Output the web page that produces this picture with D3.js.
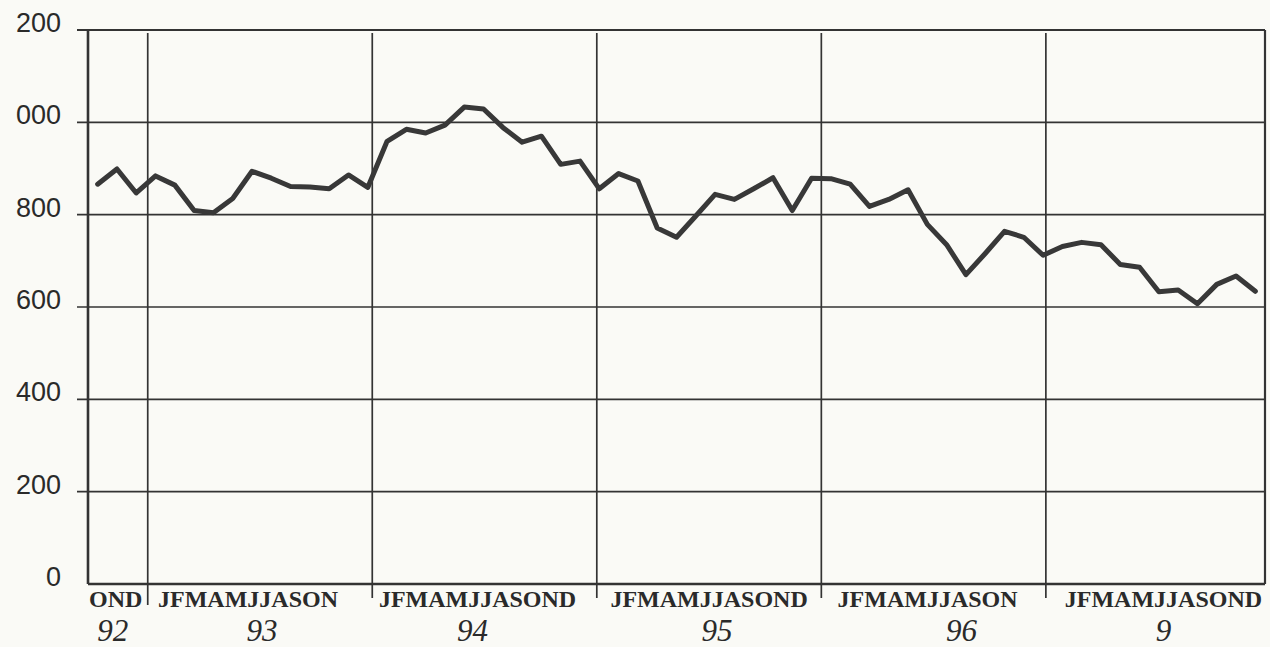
<!DOCTYPE html>
<html>
<head>
<meta charset="utf-8">
<script src="https://cdn.jsdelivr.net/npm/d3@7"></script>
<style>
  body { margin: 0; background: #fafaf6; }
</style>
</head>
<body>
<div id="chart-area"></div>
<script>
// monthly values
var values = [
  866, 899, 847, 884, 864, 809, 804, 835, 894, 879, 861, 860, 856, 886, 859,
  959, 985, 977, 994, 1033, 1029, 989, 957, 970, 909, 916, 856, 889, 873, 771,
  751, 797, 844, 833, 856, 880, 809, 879, 878, 866, 818, 833, 854, 779, 735,
  670, 716, 764, 751, 712, 731, 740, 735, 692, 686, 633, 637, 607, 649, 667,
  634
];

var yTicks = [0, 200, 400, 600, 800, 1000, 1200];
var yTickLabels = ["0", "200", "400", "600", "800", "000", "200"];

var yearLabels = ["92", "93", "94", "95", "96", "9"];
var monthLabels = ["OND", "JFMAMJJASON", "JFMAMJJASOND", "JFMAMJJASOND", "JFMAMJJASON", "JFMAMJJASOND"];
var monthsPerYear = [3, 12, 12, 12, 12, 12];

// hand placement of the labels under the axis (px shift from block centre)
var monthNudge = [-4, -12, -7, 0, -6, 8];
var yearNudge = [-7, 2, -12, 8, 28, 8];

var margin = { left: 88, right: 5, top: 30, bottom: 63 };
var width = 1270 - margin.left - margin.right,
  height = 647 - margin.top - margin.bottom;

var ink = "#333";

var svg = d3
  .select("#chart-area")
  .append("svg")
  .attr("width", 1270)
  .attr("height", 647);

svg.append("rect")
  .attr("width", 1270)
  .attr("height", 647)
  .attr("fill", "#fafaf6");

var g = svg.append("g")
  .attr("transform", "translate(" + margin.left + ", " + margin.top + ")");

// Y Scale
var y = d3.scaleLinear().domain([0, 1200]).range([height, 0]);

// X Scale (one slot per value)
var x = d3.scalePoint()
  .domain(d3.range(values.length))
  .range([0, width])
  .padding(0.5);

// month scale for the year blocks under the axis
var m = d3.scaleLinear().domain([0, 63]).range([3.6, 1182.4]);

// horizontal grid lines with small ticks on the left
g.selectAll("line.grid")
  .data(yTicks.filter(function(d) { return d > 0; }))
  .enter()
  .append("line")
  .attr("class", "grid")
  .attr("x1", -11)
  .attr("x2", width)
  .attr("y1", function(d) { return y(d); })
  .attr("y2", function(d) { return y(d); })
  .attr("stroke", ink)
  .attr("stroke-width", function(d) { return d === 1200 ? 2.2 : 1.7; });

// y labels
g.selectAll("text.ylab")
  .data(yTicks)
  .enter()
  .append("text")
  .attr("class", "ylab")
  .attr("x", -27)
  .attr("y", function(d) { return y(d) + 2; })
  .attr("text-anchor", "end")
  .attr("font-family", "Liberation Sans, Arial, sans-serif")
  .attr("font-size", "27px")
  .attr("fill", "#2a2a2a")
  .text(function(d, i) { return yTickLabels[i]; });

// year blocks
var starts = [];
var acc = 0;
monthsPerYear.forEach(function(n) {
  starts.push(acc);
  acc += n;
});

var blocks = monthsPerYear.map(function(n, i) {
  var x0 = Math.max(0, m(starts[i]));
  var x1 = Math.min(width, m(starts[i] + n));
  return { mid: (x0 + x1) / 2, i: i, month: monthLabels[i], year: yearLabels[i] };
});

// vertical year lines
g.selectAll("line.year")
  .data(starts.slice(1))
  .enter()
  .append("line")
  .attr("class", "year")
  .attr("x1", function(d) { return m(d); })
  .attr("x2", function(d) { return m(d); })
  .attr("y1", 3)
  .attr("y2", function(d, i) { return height + (i === 0 ? 21 : 14); })
  .attr("stroke", ink)
  .attr("stroke-width", 1.7);

// border: left, right, bottom
g.append("line")
  .attr("x1", 0).attr("x2", 0)
  .attr("y1", 0).attr("y2", height)
  .attr("stroke", ink).attr("stroke-width", 2.6);

g.append("line")
  .attr("x1", width).attr("x2", width)
  .attr("y1", 0).attr("y2", height)
  .attr("stroke", ink).attr("stroke-width", 2.2);

g.append("line")
  .attr("x1", 0).attr("x2", width)
  .attr("y1", height).attr("y2", height)
  .attr("stroke", ink).attr("stroke-width", 2.6);

// month letters
g.selectAll("text.month")
  .data(blocks)
  .enter()
  .append("text")
  .attr("class", "month")
  .attr("x", function(d) { return d.mid + monthNudge[d.i]; })
  .attr("y", height + 23)
  .attr("text-anchor", "middle")
  .attr("font-family", "Liberation Serif, Times New Roman, serif")
  .attr("font-weight", "bold")
  .attr("font-size", "24px")
  .attr("fill", "#2a2a2a")
  .text(function(d) { return d.month; });

// year numbers
g.selectAll("text.yr")
  .data(blocks)
  .enter()
  .append("text")
  .attr("class", "yr")
  .attr("x", function(d) { return d.mid + yearNudge[d.i]; })
  .attr("y", height + 57)
  .attr("text-anchor", "middle")
  .attr("font-family", "Liberation Serif, Times New Roman, serif")
  .attr("font-style", "italic")
  .attr("font-size", "31px")
  .attr("fill", "#2a2a2a")
  .text(function(d) { return d.year; });

// the series
var line = d3.line()
  .x(function(d, i) { return x(i); })
  .y(function(d) { return y(d); });

g.append("path")
  .datum(values)
  .attr("d", line)
  .attr("fill", "none")
  .attr("stroke", "#383838")
  .attr("stroke-width", 5)
  .attr("stroke-linejoin", "round")
  .attr("stroke-linecap", "round");
</script>
</body>
</html>
